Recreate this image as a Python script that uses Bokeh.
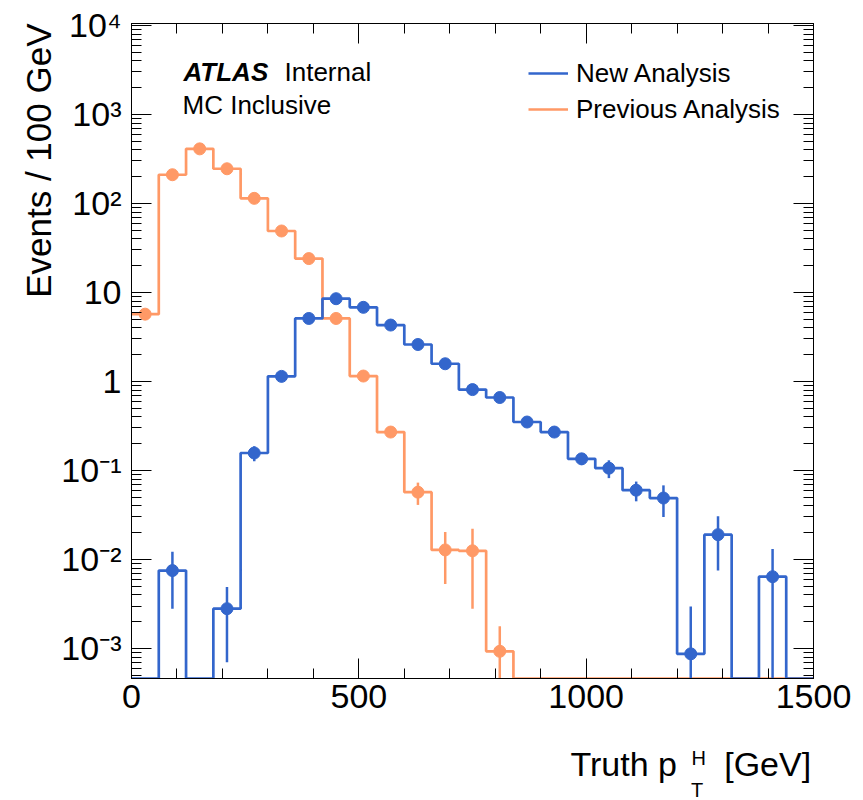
import math
from bokeh.plotting import figure
from bokeh.models import (Range1d, LinearAxis, LogAxis, SingleIntervalTicker, LogTicker,
                          CustomJSTickFormatter, Label, Legend, LegendItem, Title)
from bokeh.embed import file_html
from bokeh.resources import INLINE

# ---------------- data ----------------
bin_edges = [0, 60, 120, 180, 240, 300, 360, 420, 480, 540, 600, 660, 720, 780,
             840, 900, 960, 1020, 1080, 1140, 1200, 1260, 1320, 1380, 1440, 1500]

new_vals = [0, 0.0075, 0, 0.0028, 0.157, 1.14, 5.1, 8.5, 6.8, 4.3, 2.6, 1.58, 0.81,
            0.66, 0.35, 0.27, 0.135, 0.106, 0.06, 0.049, 0.00087, 0.019, 0, 0.0064, 0]
new_errs = [0, 0.0047, 0, 0.0021, 0.03, 0.08, 0.25, 0.35, 0.3, 0.2, 0.15, 0.1, 0.06,
            0.05, 0.035, 0.03, 0.02, 0.024, 0.015, 0.019, 0.0021, 0.0115, 0, 0.0067, 0]

prev_vals = [5.7, 210, 410, 245, 114, 49, 24, 5.1, 1.15, 0.27, 0.057, 0.0128, 0.0125,
             0.00093, 0, 0, 0, 0, 0, 0, 0, 0, 0, 0, 0]
prev_errs = [0.3, 5, 8, 6, 4, 2, 1.2, 0.4, 0.12, 0.03, 0.016, 0.0075, 0.0097,
             0.00085, 0, 0, 0, 0, 0, 0, 0, 0, 0, 0, 0]

series_names = ["New Analysis", "Previous Analysis"]
NB = "\u00a0"
x_title = "Truth p" + NB * 5 + "[GeV]"
y_title = "Events / 100 GeV"

BLUE = "#3366cc"
ORANGE = "#ff9966"
FONT = "Liberation Sans"

Y_MIN = 4.6e-4
Y_MAX = 1.05e4

p = figure(width=863, height=800, y_axis_type="log",
           x_range=Range1d(0, 1500), y_range=Range1d(Y_MIN, Y_MAX),
           output_backend="svg", toolbar_location=None,
           min_border_left=131, min_border_right=50, min_border_top=23, min_border_bottom=122)
p.grid.visible = False
p.outline_line_color = "black"
p.outline_line_width = 1
p.background_fill_color = "white"
p.border_fill_color = "white"


def style_axis(ax, label_size="34px"):
    ax.major_tick_in = 20
    ax.major_tick_out = 0
    ax.minor_tick_in = 10
    ax.minor_tick_out = 0
    ax.axis_line_color = "black"
    ax.major_tick_line_color = "black"
    ax.minor_tick_line_color = "black"
    ax.major_label_text_font = FONT
    ax.major_label_text_font_size = label_size
    ax.major_label_text_color = "black"


xt = SingleIntervalTicker(interval=500, num_minor_ticks=5)
xa = p.xaxis[0]
xa.ticker = xt
style_axis(xa)
xa.major_label_standoff = 6

ya = p.yaxis[0]
ya.ticker = LogTicker(num_minor_ticks=10)
style_axis(ya)
ya.major_label_standoff = 10
ya.formatter = CustomJSTickFormatter(code="""
const e = Math.round(Math.log10(tick));
if (e === 0) return "1";
if (e === 1) return "10";
const m = {"-":"\u207b","0":"\u2070","1":"\u00b9","2":"\u00b2","3":"\u00b3","4":"\u2074",
           "5":"\u2075","6":"\u2076","7":"\u2077","8":"\u2078","9":"\u2079"};
return "10" + String(e).split("").map(c => m[c]).join("");
""")

empty = CustomJSTickFormatter(code="return '';")
top = LinearAxis(ticker=xt, formatter=empty, major_label_standoff=0)
style_axis(top, "1px")
p.add_layout(top, "above")
right = LogAxis(ticker=LogTicker(num_minor_ticks=10), formatter=empty, major_label_standoff=0)
style_axis(right, "1px")
p.add_layout(right, "right")

# ---------------- histograms ----------------
centers = [(bin_edges[i] + bin_edges[i + 1]) / 2 for i in range(len(bin_edges) - 1)]


def draw(vals, errs, color):
    yplot = [max(v, Y_MIN) for v in vals]
    yplot = yplot + [yplot[-1]]
    r = p.step(x=bin_edges, y=yplot, mode="after", line_color=color, line_width=2.7)
    xs = [c for c, v in zip(centers, vals) if v > 0]
    ys = [v for v in vals if v > 0]
    lo = [max(v - e, Y_MIN) for v, e in zip(vals, errs) if v > 0]
    hi = [v + e for v, e in zip(vals, errs) if v > 0]
    p.segment(x0=xs, y0=lo, x1=xs, y1=hi, line_color=color, line_width=2.5)
    p.scatter(x=xs, y=ys, marker="circle", size=12, fill_color=color, line_color=color)
    return r


r_prev = draw(prev_vals, prev_errs, ORANGE)
r_new = draw(new_vals, new_errs, BLUE)

legend = Legend(items=[LegendItem(label=series_names[0], renderers=[r_new]),
                       LegendItem(label=series_names[1], renderers=[r_prev])],
                location=(397, 551), padding=0, margin=0, spacing=0,
                glyph_width=40, glyph_height=36, label_height=36, label_standoff=8,
                label_text_font=FONT, label_text_font_size="26px", label_text_color="black",
                border_line_color=None, background_fill_alpha=0)
p.add_layout(legend)

# ---------------- texts ----------------
def mk(text, x, y, size, **kw):
    return Label(text=text, x=x, y=y, x_units="screen", y_units="screen",
                 text_font=FONT, text_font_size=size, text_color="black",
                 text_baseline=kw.pop("text_baseline", "alphabetic"), **kw)


p.add_layout(mk("ATLAS", 52, 607, "26px", text_font_style="bold italic"))
p.add_layout(mk("Internal", 153, 607, "26px"))
p.add_layout(mk("MC Inclusive", 51, 574, "26px"))

# x-axis title pieces, each in its own panel below the x axis (stacked outward)
p.add_layout(mk(x_title, 439, -15.5, "34px"), "below")
p.add_layout(mk("H", 560, 12.7, "20px"), "below")
p.add_layout(mk("T", 559.5, 3, "20px"), "below")

p.add_layout(Title(text=y_title, align="right", text_font=FONT, text_font_size="35px",
                   text_font_style="normal", text_color="black", standoff=2), "left")

open("out.html", "w").write(file_html(p, INLINE))
